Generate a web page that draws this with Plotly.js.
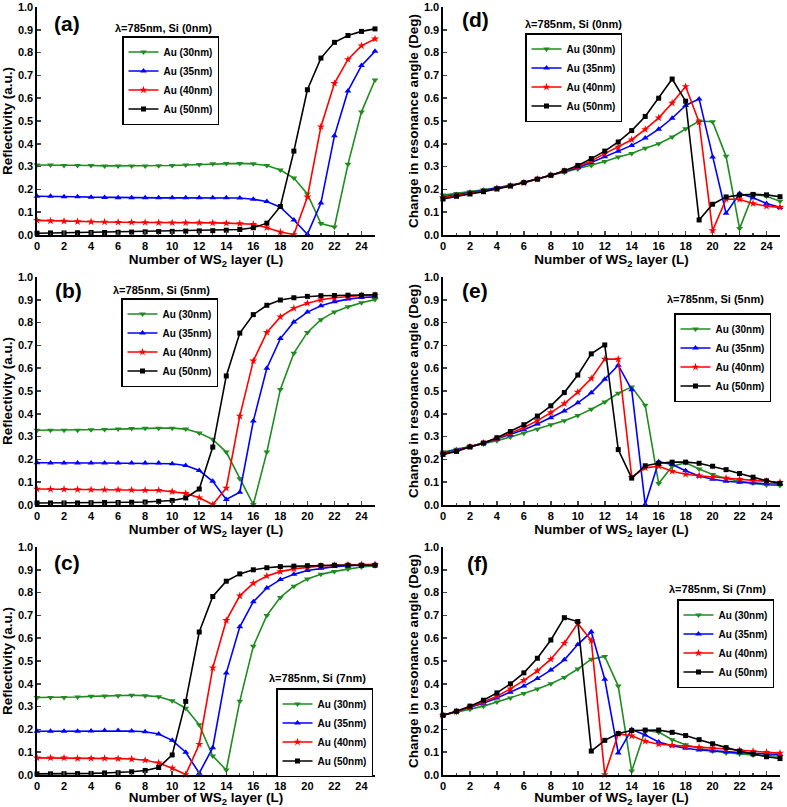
<!DOCTYPE html>
<html>
<head>
<meta charset="utf-8">
<script src="https://cdn.plot.ly/plotly-3.0.1.min.js"></script>
<style>
  body { margin: 0; background: #fff; }
  #myPlot { width: 787px; height: 807px; }
</style>
</head>
<body>
<div id="myPlot"></div>
<script>
// Define Data
const layers = [0, 1, 2, 3, 4, 5, 6, 7, 8, 9, 10, 11, 12, 13, 14, 15, 16, 17, 18, 19, 20, 21, 22, 23, 24, 25];
const seriesNames = ['Au (30nm)', 'Au (35nm)', 'Au (40nm)', 'Au (50nm)'];

// (a) reflectivity, Si 0nm
const a30 = [0.307,0.307,0.305,0.305,0.305,0.303,0.303,0.303,0.303,0.304,0.305,0.307,0.309,0.312,0.314,0.314,0.312,0.305,0.285,0.25,0.18,0.05,0.035,0.31,0.54,0.68];
const a35 = [0.17,0.17,0.168,0.168,0.166,0.165,0.163,0.163,0.163,0.163,0.163,0.163,0.163,0.163,0.163,0.162,0.157,0.147,0.122,0.066,0.003,0.14,0.435,0.632,0.743,0.806];
const a40 = [0.064,0.062,0.061,0.059,0.058,0.057,0.056,0.056,0.055,0.054,0.054,0.054,0.054,0.053,0.052,0.05,0.047,0.032,0.013,0.002,0.167,0.475,0.665,0.77,0.83,0.86];
const a50 = [0.008,0.009,0.009,0.01,0.011,0.011,0.012,0.013,0.014,0.015,0.016,0.017,0.018,0.019,0.021,0.024,0.032,0.052,0.125,0.368,0.637,0.776,0.845,0.875,0.893,0.904];

// (d) resonance angle change, Si 0nm
const d30 = [0.175,0.182,0.19,0.198,0.207,0.218,0.23,0.245,0.262,0.275,0.29,0.305,0.322,0.342,0.357,0.381,0.4,0.43,0.466,0.5,0.497,0.345,0.028,0.179,0.17,0.148];
const d35 = [0.168,0.176,0.186,0.196,0.206,0.217,0.23,0.246,0.263,0.278,0.295,0.318,0.343,0.367,0.393,0.425,0.464,0.512,0.568,0.597,0.342,0.095,0.182,0.163,0.138,0.121];
const d40 = [0.163,0.172,0.182,0.192,0.203,0.215,0.229,0.245,0.262,0.28,0.3,0.325,0.357,0.386,0.418,0.463,0.514,0.579,0.651,0.495,0.019,0.158,0.156,0.138,0.126,0.121];
const d50 = [0.158,0.17,0.18,0.19,0.202,0.215,0.23,0.245,0.262,0.282,0.305,0.335,0.368,0.408,0.458,0.52,0.6,0.684,0.587,0.066,0.135,0.167,0.175,0.178,0.176,0.168];

// (b) reflectivity, Si 5nm
const b30 = [0.328,0.328,0.328,0.328,0.33,0.331,0.333,0.335,0.337,0.337,0.337,0.333,0.316,0.288,0.232,0.115,0.002,0.232,0.507,0.666,0.757,0.813,0.847,0.869,0.887,0.901];
const b35 = [0.185,0.184,0.184,0.184,0.184,0.184,0.184,0.184,0.184,0.184,0.181,0.173,0.151,0.104,0.024,0.056,0.368,0.6,0.73,0.803,0.846,0.874,0.891,0.903,0.91,0.913];
const b40 = [0.07,0.069,0.069,0.068,0.067,0.067,0.067,0.066,0.065,0.065,0.059,0.051,0.032,0.002,0.074,0.39,0.632,0.757,0.825,0.863,0.885,0.9,0.909,0.915,0.919,0.92];
const b50 = [0.009,0.009,0.009,0.009,0.01,0.011,0.011,0.012,0.013,0.016,0.02,0.031,0.07,0.254,0.566,0.754,0.835,0.876,0.899,0.909,0.915,0.918,0.919,0.92,0.92,0.922];

// (e) resonance angle change, Si 5nm
const e30 = [0.232,0.245,0.255,0.268,0.282,0.298,0.315,0.332,0.352,0.37,0.392,0.42,0.452,0.49,0.518,0.437,0.094,0.17,0.185,0.158,0.134,0.116,0.104,0.096,0.088,0.086];
const e35 = [0.228,0.24,0.255,0.27,0.29,0.307,0.33,0.355,0.383,0.412,0.448,0.492,0.552,0.613,0.505,0.002,0.19,0.178,0.15,0.127,0.113,0.104,0.1,0.096,0.093,0.092];
const e40 = [0.225,0.238,0.255,0.272,0.292,0.315,0.34,0.37,0.405,0.445,0.495,0.555,0.64,0.64,0.122,0.163,0.17,0.148,0.135,0.128,0.122,0.118,0.113,0.108,0.104,0.1];
const e50 = [0.222,0.235,0.255,0.272,0.295,0.322,0.352,0.39,0.435,0.493,0.57,0.663,0.702,0.243,0.118,0.172,0.183,0.188,0.188,0.183,0.17,0.155,0.138,0.122,0.106,0.095];

// (c) reflectivity, Si 7nm
const c30 = [0.34,0.34,0.34,0.342,0.345,0.347,0.348,0.35,0.348,0.343,0.326,0.293,0.22,0.083,0.022,0.324,0.565,0.7,0.779,0.828,0.86,0.88,0.893,0.904,0.912,0.918];
const c35 = [0.192,0.192,0.192,0.192,0.193,0.195,0.195,0.193,0.19,0.18,0.152,0.1,0.008,0.12,0.447,0.65,0.76,0.82,0.857,0.88,0.897,0.907,0.914,0.918,0.921,0.922];
const c40 = [0.075,0.075,0.075,0.073,0.073,0.073,0.072,0.07,0.065,0.053,0.03,0.002,0.135,0.47,0.678,0.786,0.841,0.873,0.892,0.904,0.912,0.917,0.92,0.922,0.923,0.924];
const c50 = [0.005,0.005,0.006,0.006,0.007,0.009,0.01,0.014,0.02,0.033,0.088,0.323,0.627,0.783,0.85,0.882,0.9,0.909,0.914,0.916,0.918,0.919,0.92,0.92,0.92,0.92];

// (f) resonance angle change, Si 7nm
const f30 = [0.262,0.275,0.288,0.302,0.32,0.338,0.357,0.377,0.4,0.428,0.465,0.508,0.52,0.39,0.017,0.195,0.188,0.155,0.133,0.117,0.105,0.097,0.092,0.088,0.085,0.082];
const f35 = [0.262,0.28,0.295,0.315,0.338,0.363,0.39,0.423,0.46,0.505,0.572,0.628,0.42,0.097,0.2,0.175,0.145,0.128,0.117,0.11,0.105,0.101,0.098,0.095,0.092,0.09];
const f40 = [0.262,0.278,0.298,0.32,0.346,0.378,0.415,0.457,0.508,0.578,0.665,0.59,0.002,0.18,0.172,0.148,0.135,0.13,0.125,0.122,0.118,0.114,0.108,0.104,0.1,0.096];
const f50 = [0.262,0.28,0.302,0.328,0.36,0.4,0.448,0.512,0.592,0.69,0.673,0.105,0.152,0.182,0.195,0.197,0.197,0.187,0.173,0.155,0.137,0.12,0.105,0.092,0.08,0.072];

const colors = ['#1f8c1f', '#0000ff', '#ff0000', '#000000'];
const symbols = ['triangle-down', 'triangle-up', 'star', 'square'];
const msizes = [6, 6, 6, 5];

// pixel -> paper helpers (page is 787 x 807)
const W = 787, H = 807;
const px = v => v / W;
const py = v => 1 - v / H;

const FONT = 'Arial, "Liberation Sans", sans-serif';

// panel setup: axis suffix, series, label, Si thickness, legend box, text positions (pixels)
const panels = [
  {ax: '',  ys: [a30, a35, a40, a50], label: '(a)', si: 'Si (0nm)', col: 0, row: 0, lg: [122, 36], lam: [163, 28], lab: [67, 24]},
  {ax: '2', ys: [d30, d35, d40, d50], label: '(d)', si: 'Si (0nm)', col: 1, row: 0, lg: [525, 33], lam: [573, 24], lab: [475, 19]},
  {ax: '3', ys: [b30, b35, b40, b50], label: '(b)', si: 'Si (5nm)', col: 0, row: 1, lg: [121, 298], lam: [161, 290], lab: [68, 291]},
  {ax: '4', ys: [e30, e35, e40, e50], label: '(e)', si: 'Si (5nm)', col: 1, row: 1, lg: [674, 313], lam: [715, 299], lab: [475, 291]},
  {ax: '5', ys: [c30, c35, c40, c50], label: '(c)', si: 'Si (7nm)', col: 0, row: 2, lg: [276, 688], lam: [317, 678], lab: [67, 562]},
  {ax: '6', ys: [f30, f35, f40, f50], label: '(f)', si: 'Si (7nm)', col: 1, row: 2, lg: [677, 599], lam: [717, 589], lab: [477, 563]},
];

const colDomains = [[px(37), px(375)], [px(443), px(780)]];
const rowDomains = [[py(235), py(7)], [py(505), py(277)], [py(775), py(547)]];

const data = [];
const layout = {
  width: W,
  height: H,
  margin: {l: 0, r: 0, t: 0, b: 0, pad: 0},
  paper_bgcolor: '#fff',
  plot_bgcolor: 'rgba(0,0,0,0)',
  font: {family: FONT, color: '#000', size: 11, weight: 'bold'},
  showlegend: true,
  annotations: [],
};

panels.forEach((p, i) => {
  const legendId = i === 0 ? 'legend' : 'legend' + (i + 1);
  p.ys.forEach((y, k) => {
    data.push({
      x: layers,
      y: y,
      xaxis: 'x' + p.ax,
      yaxis: 'y' + p.ax,
      name: seriesNames[k],
      mode: 'lines+markers',
      type: 'scatter',
      cliponaxis: false,
      legend: legendId,
      line: {color: colors[k], width: 1.6},
      marker: {symbol: symbols[k], size: msizes[k], color: colors[k]},
    });
  });

  const yTitle = p.col === 0 ? 'Reflectivity (a.u.)' : 'Change in resonance angle (Deg)';
  layout['xaxis' + p.ax] = {
    domain: colDomains[p.col],
    anchor: 'y' + p.ax,
    range: [0, 25],
    tick0: 0,
    dtick: 2,
    ticks: 'inside',
    ticklen: 4,
    tickwidth: 1.5,
    minor: {dtick: 1, ticks: 'inside', ticklen: 2.5, tickwidth: 1.2},
    showline: true,
    linecolor: '#000',
    linewidth: 1.6,
    showgrid: false,
    zeroline: false,
    automargin: false,
    tickfont: {family: FONT, size: 11, weight: 'bold'},
    title: {text: 'Number of WS<sub>2</sub> layer (L)', font: {family: FONT, size: 13.5, weight: 'bold'}, standoff: 2},
  };
  layout['yaxis' + p.ax] = {
    domain: rowDomains[p.row],
    anchor: 'x' + p.ax,
    range: [0, 1],
    dtick: 0.1,
    tickformat: '.1f',
    ticks: 'inside',
    ticklen: 4,
    tickwidth: 1.5,
    showline: true,
    linecolor: '#000',
    linewidth: 1.6,
    showgrid: false,
    zeroline: false,
    automargin: false,
    tickfont: {family: FONT, size: 11, weight: 'bold'},
    title: {text: yTitle, font: {family: FONT, size: 13.5, weight: 'bold'}, standoff: 2},
  };

  layout[legendId] = {
    x: px(p.lg[0]),
    y: py(p.lg[1]),
    xanchor: 'left',
    yanchor: 'top',
    bgcolor: '#fff',
    bordercolor: '#000',
    borderwidth: 1.5,
    font: {family: FONT, size: 10, weight: 'bold'},
    tracegroupgap: 0,
  };

  layout.annotations.push({
    xref: 'paper', yref: 'paper',
    x: px(p.lab[0]), y: py(p.lab[1]),
    xanchor: 'center', yanchor: 'middle',
    text: p.label, showarrow: false,
    font: {family: FONT, size: 21, weight: 'bold'},
  });
  layout.annotations.push({
    xref: 'paper', yref: 'paper',
    x: px(p.lam[0]), y: py(p.lam[1]),
    xanchor: 'center', yanchor: 'middle',
    text: '\u03bb=785nm, ' + p.si, showarrow: false,
    font: {family: FONT, size: 11, weight: 'bold'},
  });
});

// Display using Plotly
Plotly.newPlot('myPlot', data, layout, {staticPlot: true});
</script>
</body>
</html>
